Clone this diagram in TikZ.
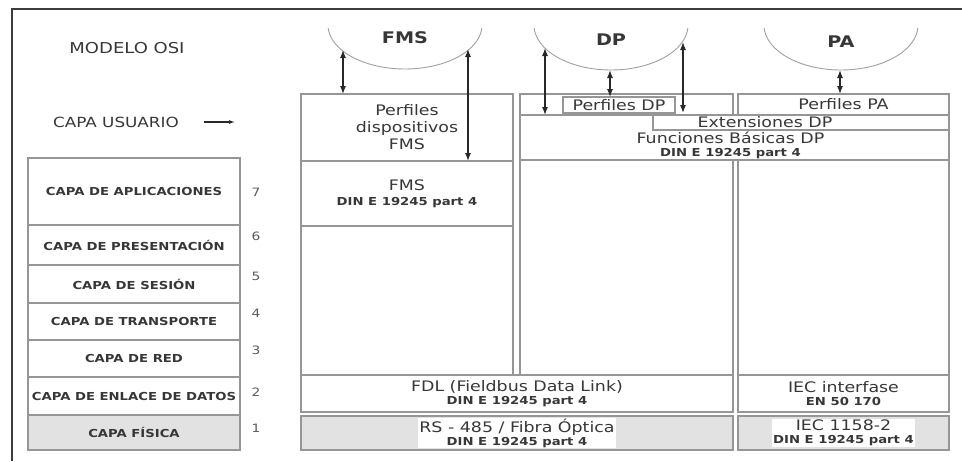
\documentclass[tikz,border=0pt]{standalone}
\usepackage{fontspec}
\setmainfont{DejaVu Sans}[FakeStretch=1.2]
\usetikzlibrary{arrows.meta, positioning, calc}
\definecolor{framegray}{RGB}{60,60,60}
\definecolor{linegray}{RGB}{150,150,150}
\definecolor{physgray}{RGB}{226,226,226}
\definecolor{textgray}{RGB}{55,55,55}
\definecolor{numgray}{RGB}{90,90,90}
\definecolor{arcgray}{RGB}{160,160,160}
\definecolor{arrowdark}{RGB}{40,40,40}
\newcommand{\dinref}{{\fontsize{11}{13}\selectfont\bfseries DIN E 19245 part 4}}
\tikzset{
    % Cajas de las capas
    layerbox/.style={rectangle, draw=linegray, line width=1.1pt, outer sep=0pt, inner sep=0pt,
        anchor=north west, text=textgray, align=center},
    boxfont/.style={font=\fontsize{14.5}{17}\selectfont},
    osilabel/.style={layerbox, minimum width=212pt, font=\fontsize{11}{13}\selectfont\bfseries},
    physbox/.style={fill=physgray},
    boxtext/.style={text=textgray, align=center, inner sep=1pt, font=\fontsize{14.5}{17}\selectfont},
    osinum/.style={text=numgray, font=\fontsize{11.5}{13}\selectfont},
    protohead/.style={text=textgray, font=\fontsize{16}{19}\selectfont\bfseries},
    % Arcos y flechas
    arcline/.style={draw=arcgray, line width=0.9pt},
    linkarrow/.style={{Latex[length=8pt, width=6pt]}-{Latex[length=8pt, width=6pt]}, line width=1.2pt, color=arrowdark},
    usrarrow/.style={-{Latex[length=6pt, width=4pt]}, line width=1.1pt, color=arrowdark},
}

\begin{document}
\begin{tikzpicture}[x=1pt, y=-1pt]
\useasboundingbox (0,0) rectangle (962,461);

% ============================================================
% Marco y titulos
% ============================================================
\draw[framegray, line width=2.2pt] (12,461) -- (12,9) -- (962,9);

\node[text=textgray, font=\fontsize{15}{18}\selectfont] (modelo) at (127,48) {MODELO OSI};
\node[text=textgray, font=\fontsize{14}{17}\selectfont] (usuario) at (116,122) {CAPA USUARIO};
\coordinate (usrTip) at (235,122);
\draw[usrarrow, shorten <=22pt] (usuario.east) -- (usrTip);

% ============================================================
% Pila OSI (izquierda)
% ============================================================
\node[osilabel, minimum height=67pt] (aplic) at (28,158) {CAPA DE APLICACIONES};
\node[osilabel, minimum height=40pt, below=0pt of aplic] (pres) {CAPA DE PRESENTACIÓN};
\node[osilabel, minimum height=38pt, below=0pt of pres] (ses) {CAPA DE SESIÓN};
\node[osilabel, minimum height=37pt, below=0pt of ses] (trans) {CAPA DE TRANSPORTE};
\node[osilabel, minimum height=37pt, below=0pt of trans] (red) {CAPA DE RED};
\node[osilabel, minimum height=38pt, below=0pt of red] (enl) {CAPA DE ENLACE DE DATOS};
\node[osilabel, physbox, minimum height=35pt, below=0pt of enl] (fis) {CAPA FÍSICA};

\foreach \lay/\num/\dy in {aplic/7/1, pres/6/-9, ses/5/-8, trans/4/-8, red/3/-8, enl/2/-4, fis/1/-4}
    \node[osinum] (num\num) at ($(\lay.east)+(16,\dy)$) {\num};

% ============================================================
% Columna FMS
% ============================================================
\draw[arcline] plot[domain=4:176, samples=60, smooth] ({405+77*cos(\x)}, {25+44*sin(\x)});
\node[protohead] (fmsHead) at (405,38) {FMS};

\node[layerbox, boxfont, minimum width=212pt, minimum height=67pt] (perfFMS) at (301,94) {Perfiles\\dispositivos\\FMS};
\node[layerbox, boxfont, minimum width=212pt, minimum height=65pt, below=0pt of perfFMS] (appFMS) {FMS\\[-2pt]\dinref};
\node[layerbox, minimum width=212pt, minimum height=149pt, below=0pt of appFMS] (lowFMS) {};

\coordinate (fmsArcL) at (343,50);
\coordinate (fmsArcR) at (468,49);
\draw[linkarrow] (fmsArcL) -- (fmsArcL |- perfFMS.north);
\draw[linkarrow] (fmsArcR) -- (fmsArcR |- perfFMS.south);

% ============================================================
% Columna DP
% ============================================================
\draw[arcline] plot[domain=4:176, samples=60, smooth] ({611+77*cos(\x)}, {25+45*sin(\x)});
\node[protohead] (dpHead) at (611,40) {DP};

\node[layerbox, minimum width=213pt, minimum height=21pt] (dpTop) at (520,94) {};
\node[layerbox, boxfont, minimum width=112pt, minimum height=16pt] (perfDP) at (563,97) {Perfiles DP};
\node[layerbox, minimum width=429pt, minimum height=45pt] (funcDP) at (520,115) {};
\node[layerbox, minimum width=296pt, minimum height=15pt] (extDP) at (653,115) {};
\node[boxtext] (extText) at ($(extDP.center)+(-36,0)$) {Extensiones DP};
\node[boxtext] (funcText) at ($(funcDP.center)+(-4,8)$) {Funciones Básicas DP\\[-4pt]\dinref};
\node[layerbox, minimum width=213pt, minimum height=215pt] (lowDP) at (520,160) {};

\coordinate (dpArcL) at (545,48);
\coordinate (dpArcM) at (610,70);
\coordinate (dpArcR) at (683,42);
\draw[linkarrow] (dpArcL) -- (dpArcL |- dpTop.south);
\draw[linkarrow] (dpArcM) -- (perfDP.north -| dpArcM);
\draw[linkarrow] (dpArcR) -- (dpArcR |- perfDP.south);

% ============================================================
% Columna PA
% ============================================================
\draw[arcline] plot[domain=4:176, samples=60, smooth] ({841+77*cos(\x)}, {25+45*sin(\x)});
\node[protohead] (paHead) at (841,42) {PA};

\node[layerbox, boxfont, minimum width=211pt, minimum height=21pt] (paTop) at (738,94) {Perfiles PA};
\node[layerbox, minimum width=211pt, minimum height=215pt] (lowPA) at (738,160) {};

\coordinate (paArc) at (840,70);
\draw[linkarrow] (paArc) -- (paArc |- paTop.north);

% ============================================================
% Enlace de datos y capa fisica
% ============================================================
\node[layerbox, boxfont, minimum width=432pt, minimum height=37pt] (fdl) at (301,375) {FDL (Fieldbus Data Link)\\[-4pt]\dinref};
\node[layerbox, boxfont, minimum width=211pt, minimum height=37pt] (iecInt) at (738,375)
    {IEC interfase\\[-4pt]{\fontsize{11}{13}\selectfont\bfseries EN 50 170}};

\node[layerbox, physbox, minimum width=432pt, minimum height=34pt] (rs) at (301,416) {};
\node[boxtext, fill=white] (rsText) at (rs.center) {RS - 485 / Fibra Óptica\\[-4pt]\dinref};
\node[layerbox, physbox, minimum width=211pt, minimum height=34pt] (iec1158) at (738,416) {};
\node[boxtext, fill=white] (iecText) at (iec1158.center) {IEC 1158-2\\[-4pt]\dinref};

\end{tikzpicture}
\end{document}
